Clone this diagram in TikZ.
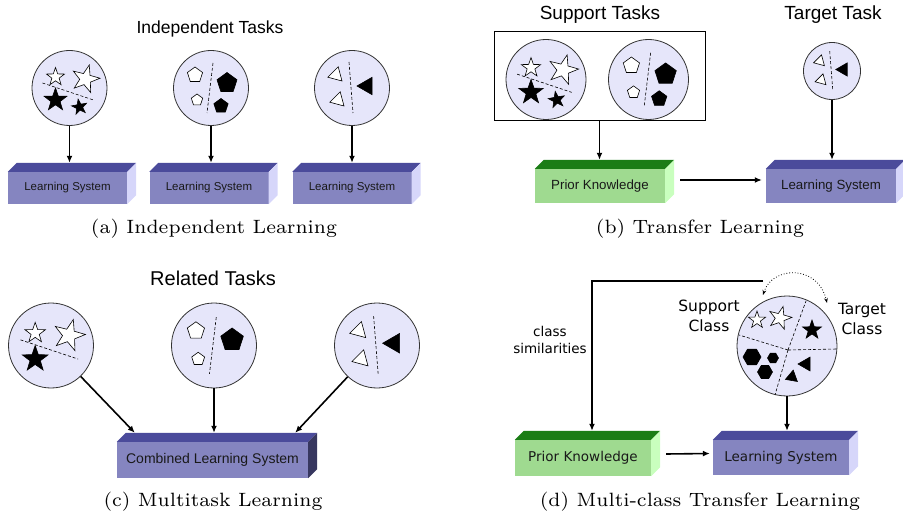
\documentclass[tikz,border=0pt]{standalone}
\usepackage{fontspec}
\usepackage{tikz}
\usetikzlibrary{arrows.meta}
\newfontfamily\helv{Liberation Sans}
\newfontfamily\dejavu{DejaVu Sans}
\definecolor{taskfill}{HTML}{E6E6FA}
\definecolor{lsfront}{HTML}{8585C0}
\definecolor{lstop}{HTML}{4B4B9B}
\definecolor{lsside}{HTML}{D6D6FA}
\definecolor{lsdark}{HTML}{37375F}
\definecolor{pkfront}{HTML}{9FDA90}
\definecolor{pktop}{HTML}{1B7D16}
\definecolor{pkside}{HTML}{C9FFBE}
\tikzset{
  taskcircle/.style={circle, draw=black!80, fill=taskfill, line width=.8pt,
    minimum size=#1, inner sep=0pt},
  lsbox/.style={fill=lsfront, inner sep=0pt, text=black!90},
  pkbox/.style={fill=pkfront, inner sep=0pt, text=black!90},
  outlinemark/.style={draw=black, fill=white, line width=.6pt},
  filledmark/.style={draw=black, fill=black, line width=.6pt},
  divider/.style={line width=.6pt, dash pattern=on 3pt off 2pt},
  flow/.style={-{Latex[length=7pt,width=6pt]}, line width=1.6pt},
  captext/.style={font=\fontsize{7}{8.4}\selectfont, scale=2.75, transform shape}
}
% top and side faces of a box drawn on a front node
\newcommand{\cuboidfaces}[3]{
  \fill[#2] (#1.north west) -- ++(9,-9) -- ([shift={(9,-9)}]#1.north east)
    -- (#1.north east) -- cycle;
  \fill[#3] (#1.north east) -- ++(9,-9) -- ([shift={(9,-9)}]#1.south east)
    -- (#1.south east) -- cycle;
  \coordinate (#1top) at ([shift={(4.5,-9)}]#1.north); }
\newcommand{\starmark}[4]{ \draw[#4, shift={(#1)}, rotate=#3] (-90:#2)
  \foreach \k in {1,...,5} { -- ({-54+72*(\k-1)}:{.4*#2}) -- ({-90+72*\k}:#2) }
  -- cycle; }
\newcommand{\polymark}[5]{ \draw[#5, shift={(#1)}] (#4:#3)
  \foreach \k in {1,...,#2} { -- ({#4+360/#2*\k}:#3) } -- cycle; }
% contents of the task circles
\newcommand{\starTask}[3]{ \begin{scope}[shift={(#1.center)}, scale=#2]
    \starmark{-14,-11}{9.5}{0}{outlinemark}
    \starmark{16,-9}{14.5}{-15}{outlinemark}
    \draw[divider] (-27,-5) -- (24,12);
    \starmark{-14,12}{12}{0}{filledmark}
    \ifnum#3=1 \starmark{10,19}{8}{10}{filledmark}\fi
  \end{scope} }
\newcommand{\pentaTask}[3]{ \begin{scope}[shift={(#1.center)}, scale=#2]
    \polymark{-16,-13}{5}{8}{-90}{outlinemark}
    \polymark{-14,12}{5}{6}{-90}{outlinemark}
    \draw[divider] (2,-25) -- (-4,25);
    \polymark{16,-5}{5}{10.5}{-90}{filledmark}
    \ifnum#3=1 \polymark{10,18}{5}{7.5}{-90}{filledmark}\fi
  \end{scope} }
\newcommand{\triTask}[2]{ \begin{scope}[shift={(#1.center)}, scale=#2]
    \polymark{-16,-13}{3}{8.5}{-75}{outlinemark}
    \polymark{-14,12}{3}{8.5}{-75}{outlinemark}
    \draw[divider] (-3,-26) -- (1,25);
    \polymark{15,-2}{3}{10}{180}{filledmark}
  \end{scope} }

\begin{document}
\begin{tikzpicture}[x=1pt, y=-1pt]
  \useasboundingbox (0,0) rectangle (903,516);

  % (a) independent learning
  \node[font=\helv\fontsize{17.5}{21}\selectfont] (indeptitle) at (210,29) {Independent Tasks};
  \node[taskcircle=75pt] (t1) at (69.5,88) {};
  \node[taskcircle=75pt] (t2) at (211,88) {};
  \node[taskcircle=75pt] (t3) at (352,88) {};
  \starTask{t1}{1}{1}
  \pentaTask{t2}{1}{1}
  \triTask{t3}{1}
  \foreach \n/\x in {1/67.5, 2/209, 3/352} {
    \node[lsbox, minimum width=119pt, minimum height=32pt,
      font=\helv\fontsize{11.5}{14}\selectfont] (ls\n) at (\x,188) {Learning System};
    \cuboidfaces{ls\n}{lstop}{lsside}
    \draw[flow] (t\n) -- (t\n |- ls\n top);
  }
  \node[captext] (capa) at (214,229) {(a) Independent Learning};

  % (b) transfer learning
  \node[font=\helv\fontsize{19}{23}\selectfont] (supporttitle) at (600,15) {Support Tasks};
  \node[font=\helv\fontsize{19}{23}\selectfont] (targettitle) at (833,15) {Target Task};
  \node[draw, line width=.8pt, minimum width=211pt, minimum height=89pt] (support) at (599.5,75.5) {};
  \node[taskcircle=80pt] (s1) at (546,79.5) {};
  \node[taskcircle=80pt] (s2) at (648.5,79.5) {};
  \node[taskcircle=57pt] (tt) at (832,71) {};
  \starTask{s1}{1.07}{1}
  \pentaTask{s2}{1.07}{1}
  \triTask{tt}{.76}
  \node[pkbox, minimum width=130pt, minimum height=34pt,
    font=\helv\fontsize{13.3}{16}\selectfont] (pk) at (600,186) {Prior Knowledge};
  \cuboidfaces{pk}{pktop}{pkside}
  \node[lsbox, minimum width=130pt, minimum height=34pt,
    font=\helv\fontsize{13.3}{16}\selectfont] (lsb) at (831,186) {Learning System};
  \cuboidfaces{lsb}{lstop}{lsside}
  \draw[flow] (support.south) -- (support.south |- pktop);
  \draw[flow] (tt) -- (tt |- lsbtop);
  \draw[flow] ([xshift=15pt,yshift=6pt]pk.east) -- ([xshift=-4pt,yshift=6pt]lsb.west);
  \node[captext] (capb) at (700,229) {(b) Transfer Learning};

  % (c) multitask learning
  \node[font=\helv\fontsize{20}{24}\selectfont] (relatedtitle) at (213,278) {Related Tasks};
  \node[taskcircle=85pt] (c1) at (51,345.5) {};
  \node[taskcircle=85pt] (c2) at (214,345.5) {};
  \node[taskcircle=85pt] (c3) at (377,345.5) {};
  \starTask{c1}{1.13}{0}
  \pentaTask{c2}{1.13}{0}
  \triTask{c3}{1.13}
  \node[lsbox, minimum width=191pt, minimum height=36pt,
    font=\helv\fontsize{14}{17}\selectfont] (combined) at (212.5,460) {Combined Learning System};
  \cuboidfaces{combined}{lstop}{lsdark}
  \draw[flow] (c1) -- ([xshift=18pt,yshift=9pt]combined.north west);
  \draw[flow] (c2) -- (c2 |- combinedtop);
  \draw[flow] (c3) -- ([xshift=-13pt,yshift=9pt]combined.north east);
  \node[captext] (capc) at (213,502) {(c) Multitask Learning};

  % (d) multi-class transfer learning
  \node[taskcircle=100pt] (mc) at (787,346) {};
  \begin{scope}[shift={(mc.center)}]
    \draw[divider] (1,4) -- (19,-45);
    \draw[divider] (1,4) -- (50,3);
    \draw[divider] (1,4) -- (-12,49);
    \draw[divider] (1,4) -- (-48,-11);
    \starmark{-30,-26}{9}{0}{outlinemark}
    \starmark{-7,-28}{12}{-15}{outlinemark}
    \starmark{25,-16}{10}{0}{filledmark}
    \polymark{-35,11}{6}{9}{0}{filledmark}
    \polymark{-14,12}{6}{5.5}{0}{filledmark}
    \polymark{-22,26}{6}{7.5}{0}{filledmark}
    \polymark{5,31}{3}{7}{160}{filledmark}
    \polymark{19,18}{3}{8}{180}{filledmark}
  \end{scope}
  \node[font=\dejavu\fontsize{15.5}{20}\selectfont, align=center] (supportclass) at (709,316) {Support\\Class};
  \node[font=\dejavu\fontsize{15.5}{20}\selectfont, align=center] (targetclass) at (862,319) {Target\\Class};
  \coordinate (simleft) at (763,295);
  \coordinate (simright) at (827,303);
  \draw[{Stealth[length=5pt]}-{Stealth[length=5pt]}, dotted, line width=.8pt]
    (simleft) .. controls (772,266) and (818,264) .. (simright);
  \node[pkbox, minimum width=136pt, minimum height=36pt,
    font=\dejavu\fontsize{13.5}{16}\selectfont] (pkd) at (583,458) {Prior Knowledge};
  \cuboidfaces{pkd}{pktop}{pkside}
  \node[lsbox, minimum width=136pt, minimum height=35pt,
    font=\dejavu\fontsize{13.5}{16}\selectfont] (lsd) at (781,457.5) {Learning System};
  \cuboidfaces{lsd}{lstop}{lsside}
  \coordinate (simstart) at (763,281);
  \draw[flow] (simstart) -| ([xshift=4.5pt]pkdtop);
  \node[font=\dejavu\fontsize{13.5}{17}\selectfont, align=center] (simlabel) at (550,340) {class\\similarities};
  \draw[flow] (mc) -- (mc |- lsdtop);
  \draw[flow] ([xshift=15pt,yshift=4pt]pkd.east) -- ([xshift=-3pt,yshift=4pt]lsd.west);
  \node[captext] (capd) at (700,502) {(d) Multi-class Transfer Learning};
\end{tikzpicture}
\end{document}
